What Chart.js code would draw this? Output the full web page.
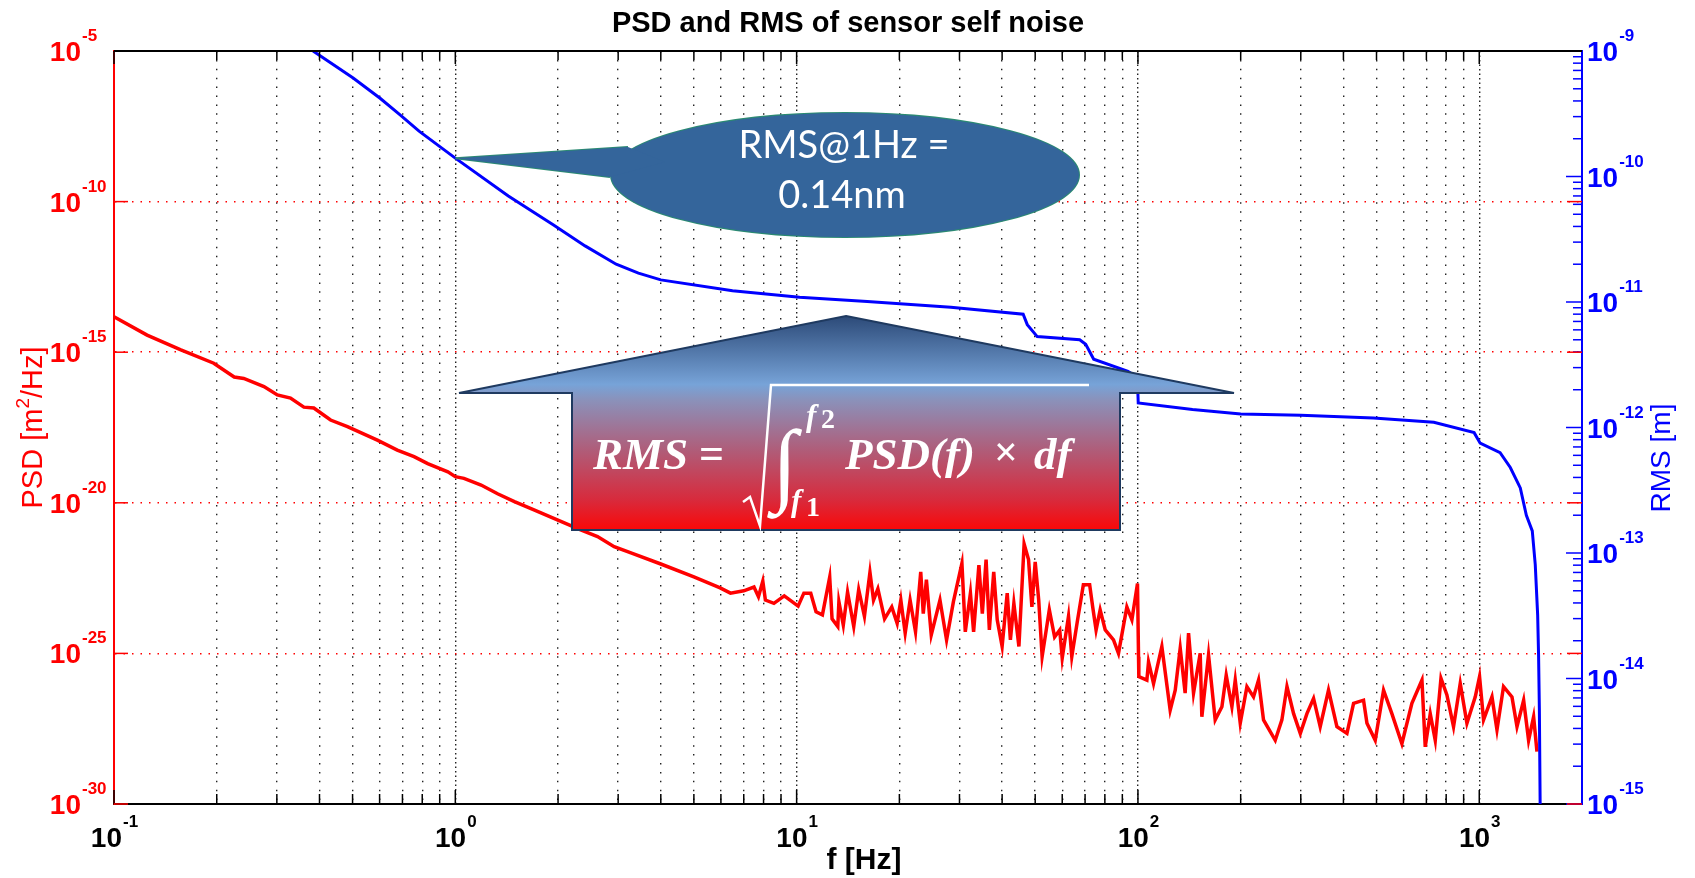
<!DOCTYPE html>
<html>
<head>
<meta charset="utf-8">
<title>PSD and RMS of sensor self noise</title>
<script src="https://cdn.jsdelivr.net/npm/chart.js@4/dist/chart.umd.min.js"></script>
<style>
  html, body { margin: 0; padding: 0; background: #fff; }
  #wrap { width: 1695px; height: 878px; position: relative; }
</style>
</head>
<body>
<div id="wrap"><canvas id="noise"></canvas></div>
<script>
// PSD of the sensor self noise [Hz] / [m^2/Hz]
var psdFreq = [
  0.1, 0.125, 0.157, 0.196, 0.225, 0.24, 0.275, 0.301, 0.329, 0.36,
  0.385, 0.431, 0.483, 0.591, 0.676, 0.757, 0.83, 0.951, 1.0, 1.06,
  1.19, 1.33, 1.49, 1.70, 1.99, 2.33, 2.61, 2.92, 3.30, 4.0,
  5.0, 5.97, 6.4, 7.0, 7.5, 7.73, 7.96, 8.1, 8.58, 9.2,
  10.1, 10.5, 11.0, 11.4, 11.9, 12.5, 12.7, 13.2, 13.3, 13.7,
  14.1, 14.7, 15.2, 15.8, 16.4, 16.8, 17.3, 18.1, 19.0, 19.7,
  20.2, 20.8, 21.5, 22.3, 23.1, 23.5, 24.0, 24.8, 26.3, 27.5,
  28.8, 30.5, 31.2, 32.3, 33.0, 34.2, 35.0, 35.9, 36.7, 37.8,
  38.7, 40.0, 41.4, 42.3, 43.3, 44.8, 46.4, 47.8, 48.9, 50.0,
  51.2, 52.4, 55.0, 57.0, 59.0, 60.0, 62.6, 64.0, 66.4, 69.2,
  72.2, 73.7, 75.4, 77.5, 80.2, 84.8, 87.7, 92.8, 96.0, 99.7,
  100.4, 100.6, 106.2, 107.4, 111.1, 117.5, 124.3, 128.6, 133, 137.5,
  140.7, 145.5, 152.2, 153.9, 161, 168.4, 176.2, 181.4, 188.5, 192.8,
  199.4, 208.6, 218.1, 225.6, 233.3, 252.5, 264.1, 273.3, 285.8, 299,
  312.7, 327, 342, 361.7, 382.8, 409.6, 428.3, 458.1, 468.8, 495.7,
  524.4, 554.6, 593.4, 634.8, 679.4, 694.6, 718.5, 743.2, 772.4, 803.9,
  840.7, 879.6, 920.2, 973.4, 1002, 1029.5, 1089.6, 1127, 1178, 1247,
  1290, 1349, 1395, 1443, 1476
];
var psdValue = [
  1.5e-14, 3.7e-15, 1.2e-15, 4.3e-16, 1.5e-16, 1.35e-16, 7.2e-17, 3.8e-17, 3.0e-17, 1.5e-17,
  1.4e-17, 5.6e-18, 3.4e-18, 1.2e-18, 5.6e-19, 3.4e-19, 2.0e-19, 1.07e-19, 7.4e-20, 6.5e-20,
  3.9e-20, 2.0e-20, 1.1e-20, 5.8e-21, 2.7e-21, 1.26e-21, 7.6e-22, 3.5e-22, 2.1e-22, 9.3e-23,
  3.5e-23, 1.5e-23, 1.0e-23, 1.2e-23, 1.6e-23, 7.6e-24, 2.5e-23, 5.9e-24, 4.6e-24, 8.1e-24,
  3.7e-24, 1.0e-23, 1.0e-23, 2.4e-24, 1.9e-24, 3.4e-23, 1.4e-24, 7.8e-25, 5.2e-24, 8.7e-25,
  1.1e-23, 7.8e-25, 1.3e-23, 1.7e-24, 4.9e-23, 5.9e-24, 1.4e-23, 1.4e-24, 3.5e-24, 1.0e-24,
  5.9e-24, 4.7e-25, 5.9e-24, 5.2e-25, 5.1e-23, 2.1e-24, 2.8e-23, 4.1e-25, 5.9e-24, 2.8e-25,
  5.2e-24, 9.8e-23, 5.2e-25, 1.0e-23, 5.2e-25, 8.5e-23, 2.1e-24, 1.3e-22, 6.0e-25, 5.1e-23,
  1.3e-24, 1.7e-25, 1.0e-23, 2.8e-25, 4.6e-24, 1.7e-25, 4.3e-22, 1.3e-22, 3.5e-24, 1.1e-22,
  5.9e-24, 7.8e-26, 2.8e-24, 3.5e-25, 6.0e-25, 6.9e-26, 1.7e-24, 7.8e-26, 1.1e-24, 1.9e-23,
  1.9e-23, 3.5e-24, 6.0e-25, 2.8e-24, 6.0e-25, 2.8e-25, 1.0e-25, 3.5e-24, 1.3e-24, 2.1e-23,
  7.8e-26, 1.7e-26, 1.3e-26, 5.2e-26, 1.0e-26, 1.7e-25, 1.3e-27, 6.0e-27, 1.5e-25, 4.8e-27,
  4.7e-25, 4.8e-27, 1.0e-25, 7.9e-28, 8.9e-26, 6.2e-28, 1.7e-27, 1.9e-26, 1.7e-27, 1.3e-26,
  4.8e-28, 7.9e-27, 3.6e-27, 1.3e-26, 6.2e-28, 1.3e-28, 6.2e-28, 7.9e-27, 1.0e-27, 2.2e-28,
  1.0e-27, 3.2e-27, 3.7e-28, 6.0e-27, 3.7e-28, 2.2e-28, 2.2e-27, 2.8e-27, 4.8e-28, 1.3e-28,
  6.0e-27, 1.0e-27, 1.0e-28, 2.2e-27, 1.3e-26, 7.9e-29, 1.0e-27, 1.3e-28, 1.5e-26, 4.2e-27,
  3.7e-28, 1.0e-26, 4.8e-28, 3.6e-27, 1.7e-26, 6.2e-28, 3.6e-27, 2.9e-28, 7.9e-27, 3.6e-27,
  3.7e-28, 2.8e-27, 1.3e-28, 7.9e-28, 5.5e-29
];

// cumulative RMS, integrated from high to low frequency [Hz] / [m]
var rmsFreq = [
  0.383, 0.502, 0.602, 0.689, 0.783, 1.0, 1.43, 1.94, 2.40, 2.96,
  3.44, 4.0, 6.49, 10.2, 16.1, 28.3, 46.1, 47.4, 50.7, 67.5,
  70.3, 74.2, 93.5, 99.6, 100.2, 144.5, 200, 300, 490, 736,
  966, 1006, 1151, 1233, 1319, 1374, 1430, 1459, 1483, 1492,
  1500, 1508
];
var rmsValue = [
  1.0e-9, 6.1e-10, 4.2e-10, 3.1e-10, 2.3e-10, 1.4e-10, 7.0e-11, 4.1e-11, 2.8e-11, 2.0e-11,
  1.7e-11, 1.5e-11, 1.23e-11, 1.09e-11, 1.01e-11, 9.1e-12, 8.0e-12, 6.6e-12, 5.3e-12, 5.0e-12,
  4.6e-12, 3.5e-12, 2.8e-12, 2.5e-12, 1.57e-12, 1.39e-12, 1.28e-12, 1.25e-12, 1.19e-12, 1.10e-12,
  9.1e-13, 7.5e-13, 6.3e-13, 4.8e-13, 3.3e-13, 2.0e-13, 1.5e-13, 8.1e-14, 3.2e-14, 1.55e-14,
  5.8e-15, 1.0e-15
];

// axis decades (exponents of ten)
var freqDecades = [-1, 0, 1, 2, 3];
var psdDecades = [-30, -25, -20, -15, -10, -5];
var rmsDecades = [-15, -14, -13, -12, -11, -10, -9];

// the callout points at the RMS value at 1 Hz
var calloutFreq = 1;
var calloutRms = 1.4e-10;

var SANS = '"Liberation Sans", Arial, sans-serif';
var SERIF = '"Liberation Serif", "Times New Roman", serif';

function pow10(e) { return Number('1e' + e); }

function logTicks(decades, maxVal) {
  var out = [];
  decades.forEach(function(d) {
    for (var m = 1; m <= 9; m++) {
      var v = m * pow10(d);
      if (v <= maxVal * 1.0001) out.push({ value: v, major: m === 1 });
      if (d === decades[decades.length - 1]) break;
    }
  });
  return out;
}

function pairs(xs, ys) {
  return xs.map(function(x, i) { return { x: x, y: ys[i] }; });
}

function line(ctx, x1, y1, x2, y2) {
  ctx.beginPath(); ctx.moveTo(x1, y1); ctx.lineTo(x2, y2); ctx.stroke();
}

// "10" with a raised exponent; align: 'right' (10 ends at x), 'left', 'center'
function powLabel(ctx, exp, x, y, align, color) {
  ctx.fillStyle = color;
  ctx.textBaseline = 'alphabetic';
  ctx.font = 'bold 28px ' + SANS;
  var wBase = ctx.measureText('10').width;
  ctx.font = 'bold 17px ' + SANS;
  var wExp = ctx.measureText(String(exp)).width;
  var x0;
  if (align === 'right') x0 = x - wBase;
  else if (align === 'left') x0 = x;
  else x0 = x - (wBase + wExp) / 2;
  ctx.textAlign = 'left';
  ctx.font = 'bold 28px ' + SANS;
  ctx.fillText('10', x0, y + 10);
  ctx.font = 'bold 17px ' + SANS;
  ctx.fillText(String(exp), x0 + wBase + 1, y - 10);
}

// inward tick marks and the top frame line, like the original figure
var frameTicks = {
  id: 'frameTicks',
  afterDatasetsDraw: function(chart) {
    var ctx = chart.ctx, a = chart.chartArea;
    var sx = chart.scales.x, sy = chart.scales.y, sy2 = chart.scales.y2;
    ctx.save();
    ctx.lineWidth = 1.5;
    ctx.strokeStyle = '#000';
    sx.ticks.forEach(function(t) {
      var px = sx.getPixelForValue(t.value);
      var len = t.major ? 14 : 10;
      line(ctx, px, a.bottom, px, a.bottom - len);
      line(ctx, px, a.top, px, a.top + len - 1);
    });
    ctx.strokeStyle = '#0000ff';
    sy2.ticks.forEach(function(t) {
      var py = sy2.getPixelForValue(t.value);
      line(ctx, a.right, py, a.right - (t.major ? 16 : 9), py);
    });
    ctx.strokeStyle = '#ff0000';
    sy.ticks.forEach(function(t) {
      var py = sy.getPixelForValue(t.value);
      line(ctx, a.left, py, a.left + 14, py);
      line(ctx, a.right, py, a.right - 15, py);
    });
    ctx.lineWidth = 2;
    ctx.strokeStyle = '#000';
    line(ctx, a.left, a.top, a.right, a.top);
    ctx.restore();
  }
};

// speech bubble and the up arrow carrying the RMS formula
var callouts = {
  id: 'callouts',
  afterDatasetsDraw: function(chart) {
    var ctx = chart.ctx;
    var tipX = chart.scales.x.getPixelForValue(calloutFreq);
    var tipY = chart.scales.y2.getPixelForValue(calloutRms);
    ctx.save();

    // bubble
    ctx.strokeStyle = '#2b8a72';
    ctx.lineWidth = 2;
    ctx.fillStyle = '#34659b';
    ctx.beginPath(); ctx.ellipse(845, 175, 234, 62, 0, 0, Math.PI * 2); ctx.stroke();
    ctx.beginPath(); ctx.moveTo(628, 147); ctx.lineTo(tipX, tipY); ctx.lineTo(610, 177); ctx.stroke();
    ctx.beginPath(); ctx.ellipse(845, 175, 234, 62, 0, 0, Math.PI * 2); ctx.fill();
    ctx.beginPath();
    ctx.moveTo(tipX, tipY); ctx.lineTo(628, 147); ctx.lineTo(665, 162); ctx.lineTo(610, 177);
    ctx.closePath(); ctx.fill();
    ctx.fillStyle = '#ffffff';
    ctx.textAlign = 'center';
    ctx.textBaseline = 'middle';
    ctx.font = '38px Lato, "Open Sans", sans-serif';
    ctx.fillText('RMS@1Hz =', 844, 146);
    ctx.fillText('0.14nm', 842, 196);

    // arrow
    var g = ctx.createLinearGradient(0, 316, 0, 530);
    g.addColorStop(0, '#2c4a78');
    g.addColorStop(0.32, '#77a3d8');
    g.addColorStop(0.39, '#8a92bb');
    g.addColorStop(0.63, '#b05c78');
    g.addColorStop(0.86, '#d82a3c');
    g.addColorStop(1, '#fa0808');
    ctx.beginPath();
    ctx.moveTo(846, 316);
    ctx.lineTo(1234, 393);
    ctx.lineTo(1120, 393);
    ctx.lineTo(1120, 530);
    ctx.lineTo(572, 530);
    ctx.lineTo(572, 393);
    ctx.lineTo(459, 393);
    ctx.closePath();
    ctx.fillStyle = g;
    ctx.fill();
    ctx.strokeStyle = '#1f3a60';
    ctx.lineWidth = 2;
    ctx.stroke();

    // formula
    ctx.fillStyle = '#ffffff';
    ctx.strokeStyle = '#ffffff';
    ctx.textAlign = 'left';
    ctx.textBaseline = 'alphabetic';
    ctx.font = 'italic bold 45px ' + SERIF;
    ctx.fillText('RMS', 593, 469);
    ctx.font = 'bold 44px ' + SERIF;
    ctx.fillText('=', 699, 468);
    ctx.lineWidth = 2.5;
    ctx.beginPath();
    ctx.moveTo(743, 502); ctx.lineTo(750, 497); ctx.lineTo(760, 526); ctx.lineTo(771, 385); ctx.lineTo(1089, 385);
    ctx.stroke();
    ctx.font = 'italic 92px ' + SERIF;
    ctx.fillText('\u222B', 772, 494);
    ctx.font = 'italic bold 31px ' + SERIF;
    ctx.fillText('f', 806, 426);
    ctx.fillText('f', 791, 511);
    ctx.font = 'bold 28px ' + SERIF;
    ctx.fillText('2', 821, 428);
    ctx.fillText('1', 806, 516);
    ctx.font = 'italic bold 45px ' + SERIF;
    ctx.fillText('PSD(f)', 845, 469);
    ctx.font = 'bold 42px ' + SERIF;
    ctx.fillText('\u00D7', 994, 466);
    ctx.font = 'italic bold 45px ' + SERIF;
    ctx.fillText('df', 1034, 469);
    ctx.restore();
  }
};

// titles and 10^n tick labels
var labels = {
  id: 'labels',
  afterDraw: function(chart) {
    var ctx = chart.ctx, a = chart.chartArea;
    var sx = chart.scales.x, sy = chart.scales.y, sy2 = chart.scales.y2;
    ctx.save();
    freqDecades.forEach(function(d) {
      powLabel(ctx, d, sx.getPixelForValue(pow10(d)), a.bottom + 33, 'center', '#000');
    });
    psdDecades.forEach(function(d) {
      powLabel(ctx, d, a.left - 33, sy.getPixelForValue(pow10(d)), 'right', '#ff0000');
    });
    rmsDecades.forEach(function(d) {
      powLabel(ctx, d, a.right + 5, sy2.getPixelForValue(pow10(d)), 'left', '#0000ff');
    });

    ctx.textAlign = 'center';
    ctx.textBaseline = 'middle';
    ctx.fillStyle = '#000';
    ctx.font = 'bold 29px ' + SANS;
    ctx.fillText('PSD and RMS of sensor self noise', (a.left + a.right) / 2, 24);
    ctx.font = 'bold 30px ' + SANS;
    ctx.fillText('f [Hz]', 864, 861);

    // left axis title with a real superscript 2
    ctx.save();
    ctx.translate(34, (a.top + a.bottom) / 2);
    ctx.rotate(-Math.PI / 2);
    ctx.fillStyle = '#ff0000';
    ctx.textAlign = 'left';
    ctx.textBaseline = 'middle';
    ctx.font = '29px ' + SANS;
    var w1 = ctx.measureText('PSD [m').width;
    var w3 = ctx.measureText('/Hz]').width;
    ctx.font = '19px ' + SANS;
    var w2 = ctx.measureText('2').width;
    var sx0 = -(w1 + w2 + w3) / 2;
    ctx.font = '29px ' + SANS;
    ctx.fillText('PSD [m', sx0, 0);
    ctx.fillText('/Hz]', sx0 + w1 + w2, 0);
    ctx.font = '19px ' + SANS;
    ctx.fillText('2', sx0 + w1, -10);
    ctx.restore();

    ctx.save();
    ctx.translate(1662, 458);
    ctx.rotate(-Math.PI / 2);
    ctx.fillStyle = '#0000ff';
    ctx.font = '28px ' + SANS;
    ctx.fillText('RMS [m]', 0, 0);
    ctx.restore();
    ctx.restore();
  }
};

var edge = function(ctx) {
  var n = ctx.scale.ticks.length;
  return ctx.index === 0 || ctx.index === n - 1;
};

new Chart(document.getElementById('noise'), {
  type: 'line',
  data: {
    datasets: [
      {
        label: 'PSD',
        data: pairs(psdFreq, psdValue),
        yAxisID: 'y',
        borderColor: '#ff0000',
        borderWidth: 3.5,
        order: 1
      },
      {
        label: 'RMS',
        data: pairs(rmsFreq, rmsValue),
        yAxisID: 'y2',
        borderColor: '#0000ff',
        borderWidth: 3,
        order: 0
      }
    ]
  },
  options: {
    responsive: true,
    maintainAspectRatio: false,
    devicePixelRatio: 1,
    animation: false,
    layout: { padding: { left: 114, top: 51, right: 113, bottom: 74 } },
    elements: {
      point: { radius: 0, hoverRadius: 0 },
      line: { tension: 0, borderJoinStyle: 'miter' }
    },
    plugins: {
      legend: { display: false },
      tooltip: { enabled: false },
      title: { display: false }
    },
    events: [],
    scales: {
      x: {
        type: 'logarithmic',
        min: 0.1,
        max: 2000,
        afterBuildTicks: function(s) { s.ticks = logTicks(freqDecades, 2000); },
        ticks: { display: false },
        grid: {
          color: function(ctx) { return ctx.index === 0 ? 'rgba(0,0,0,0)' : '#222'; },
          lineWidth: 1.4,
          drawTicks: false,
          tickLength: 0
        },
        border: {
          display: true,
          color: '#000',
          width: 2,
          dash: function(ctx) {
            return ctx.tick && ctx.tick.major ? [1.5, 3] : [1.5, 7.4];
          }
        }
      },
      y: {
        type: 'logarithmic',
        position: 'left',
        min: 1e-30,
        max: 1e-5,
        afterBuildTicks: function(s) {
          s.ticks = psdDecades.map(function(d) { return { value: pow10(d), major: true }; });
        },
        ticks: { display: false },
        grid: {
          color: function(ctx) { return edge(ctx) ? 'rgba(0,0,0,0)' : '#ff0000'; },
          lineWidth: 1.5,
          drawTicks: false,
          tickLength: 0
        },
        border: { display: true, color: '#ff0000', width: 2, dash: [1.5, 7] }
      },
      y2: {
        type: 'logarithmic',
        position: 'right',
        min: 1e-15,
        max: 1e-9,
        afterBuildTicks: function(s) { s.ticks = logTicks(rmsDecades, 1e-9); },
        ticks: { display: false },
        grid: { drawOnChartArea: false, drawTicks: false, tickLength: 0 },
        border: { display: true, color: '#0000ff', width: 2 }
      }
    }
  },
  plugins: [frameTicks, callouts, labels]
});
</script>
</body>
</html>
